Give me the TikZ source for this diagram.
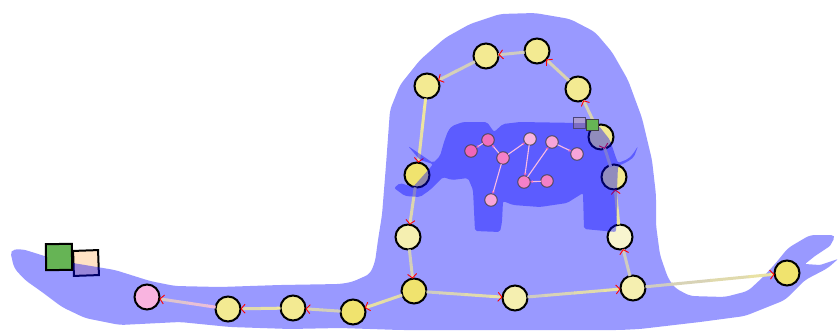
\documentclass[tikz,border=0pt]{standalone}
\usetikzlibrary{arrows.meta,calc}
\definecolor{yA}{HTML}{F0E36E}
\definecolor{yB}{HTML}{F3EA92}
\definecolor{yC}{HTML}{F5EFB0}
\definecolor{yD}{HTML}{F8F5CF}
\definecolor{edgeY}{HTML}{F2E99A}
\definecolor{edgeG}{HTML}{CFCCC0}
\definecolor{edgeT}{HTML}{DDD6AE}
\definecolor{edgeP}{HTML}{F2BCDD}
\definecolor{pinkA}{HTML}{F066B8}
\definecolor{pinkB}{HTML}{F480C8}
\definecolor{pinkC}{HTML}{F8A4DA}
\definecolor{pinkD}{HTML}{F9B4E0}
\definecolor{greenS}{HTML}{66B455}
\definecolor{peachS}{HTML}{FFE2C4}
\definecolor{lavA}{HTML}{AC9CD4}
\definecolor{lavB}{HTML}{7C6CC4}
\definecolor{lavE}{HTML}{4A4478}
\tikzset{
  x=1pt,y=-1pt,
  overlay blue/.style={fill=blue,fill opacity=0.4,draw=none},
  bignode/.style={circle,draw=black,line width=2pt,minimum size=25pt,inner sep=0pt,outer sep=0pt},
  smallnode/.style={circle,draw=black!75,draw opacity=.8,line width=1pt,minimum size=12.5pt,inner sep=0pt,outer sep=0pt},
  bigedge/.style={line width=3pt},
  redtip/.style={-{Straight Barb[color=red,length=4pt,width=9pt,line width=.9pt]}},
  smalledge/.style={line width=1.1pt,draw=pinkC!75!white},
  smalltip/.style={-{Stealth[color=pinkA,length=3pt,width=3pt]}},
}
\newcommand{\bigconn}[4]{%
  \foreach \i/\m in {0/0,1/25,2/50,3/75}{%
    \pgfmathsetmacro{\ta}{\i/4}\pgfmathsetmacro{\tb}{(\i+1)/4+.01}%
    \colorlet{segc}{#4!\m!#3}%
    \ifnum\i=0
      \draw[bigedge,draw=segc] (#1) -- ($(#1)!\tb!(#2)$);
    \else\ifnum\i=3
      \draw[bigedge,draw=segc,redtip] ($(#1)!\ta!(#2)$) -- (#2);
    \else
      \draw[bigedge,draw=segc] ($(#1)!\ta!(#2)$) -- ($(#1)!\tb!(#2)$);
    \fi\fi}}
\begin{document}
\begin{tikzpicture}
\useasboundingbox (0,0) rectangle (838,330);
\node[draw=black,line width=2pt,fill=peachS,minimum size=25pt,inner sep=0pt,rotate=2] (sqB) at (86,263) {};
\fill[overlay blue,rounded corners=5pt]
  (10,250) -- (22,249) -- (35,253) -- (60,261) -- (85,265) -- (115,270) -- (150,281) -- (175,286)
  -- (220,287) -- (280,285) -- (340,284) -- (352,282) -- (370,274) -- (375,262) -- (378,240)
  -- (382,215) -- (386,165) -- (390,110) -- (400,85) -- (420,60) -- (445,38) -- (470,24)
  -- (500,14) -- (535,13) -- (570,19) -- (595,32) -- (612,52) -- (628,80) -- (642,118)
  -- (652,160) -- (656,195) -- (656,225) -- (660,255) -- (668,278) -- (675,288) -- (690,296)
  -- (725,297) -- (748,291) -- (762,278) -- (775,264) -- (788,248) -- (810,235) -- (836,235)
  [rounded corners=1pt] -- (830,246) -- (815,256) -- (805,264) -- (820,265) -- (838,259) [rounded corners=5pt] -- (828,268) -- (805,280)
  -- (785,300) -- (745,316) -- (700,322) -- (640,329) -- (620,330) -- (450,330) -- (400,330)
  -- (340,328) -- (290,329) -- (230,327) -- (180,322) -- (120,325) -- (85,318) -- (62,307)
  -- (42,292) -- (25,280) -- (14,268) -- cycle;
\node[bignode,fill=pinkD] (n1) at (147,297) {};
\node[bignode,fill=yB] (n2) at (228,309) {};
\node[bignode,fill=yB] (n3) at (293,308) {};
\node[bignode,fill=yA] (n4) at (353,312) {};
\node[bignode,fill=yA] (n5) at (414,291) {};
\node[bignode,fill=yC] (n6) at (408,237) {};
\node[bignode,fill=yA] (n7) at (417,175) {};
\node[bignode,fill=yB] (n8) at (427,86) {};
\node[bignode,fill=yB] (n9) at (486,56) {};
\node[bignode,fill=yB] (n10) at (537,51) {};
\node[bignode,fill=yB] (n11) at (578,89) {};
\node[bignode,fill=yB] (n12) at (601,137) {};
\node[bignode,fill=yB] (n13) at (614,177) {};
\node[bignode,fill=yD] (n14) at (620,237) {};
\node[bignode,fill=yC] (n15) at (633,288) {};
\node[bignode,fill=yC] (n16) at (515,298) {};
\node[bignode,fill=yA] (n17) at (787,273) {};
\bigconn{n2}{n1}{edgeP}{edgeG}
\bigconn{n3}{n2}{edgeY}{edgeG}
\bigconn{n4}{n3}{edgeG}{edgeT}
\bigconn{n5}{n4}{edgeT}{edgeY}
\bigconn{n6}{n5}{edgeG}{edgeT}
\bigconn{n7}{n6}{edgeT}{edgeT}
\bigconn{n8}{n7}{edgeY}{edgeT}
\bigconn{n9}{n8}{edgeG}{edgeT}
\bigconn{n10}{n9}{edgeG}{edgeG}
\bigconn{n11}{n10}{edgeT}{edgeG}
\bigconn{n12}{n11}{edgeT}{edgeG}
\bigconn{n13}{n12}{edgeG}{edgeG}
\bigconn{n14}{n13}{edgeY}{edgeG}
\bigconn{n15}{n14}{edgeG}{edgeG}
\bigconn{n16}{n15}{edgeG}{edgeY}
\bigconn{n5}{n16}{edgeG}{edgeY}
\bigconn{n15}{n17}{edgeG}{edgeY}
\fill[overlay blue,rounded corners=2pt]
  (448,131) -- (452,126) -- (463,122) -- (487,122) -- (494,132) -- (503,124) -- (520,122)
  -- (580,123) -- (599,126) -- (610,140) -- (615,155) -- (618,163) -- (628,159) -- (633,154)
  -- (638,146) -- (634,157) -- (627,162) -- (618,166) -- (617,190) -- (617,210) -- (616,232)
  -- (584,229) -- (583,193) -- (567,203) -- (540,207) -- (513,205) -- (503,201) -- (502,222)
  -- (500,232) -- (475,231) -- (473,190) -- (468,178) -- (452,180) -- (443,177) -- (430,190)
  -- (420,197) -- (405,196) -- (394,188) -- (400,183) -- (413,187) -- (430,168) -- (433,164)
  -- (420,160) -- (408,146) -- (420,154) -- (433,163) -- (440,156) -- (444,142) -- cycle;
\node[smallnode,fill=pinkA] (p1) at (471,151) {};
\node[smallnode,fill=pinkA!85!pinkC] (p2) at (488,140) {};
\node[smallnode,fill=pinkB] (p3) at (503,158) {};
\node[smallnode,fill=pinkD] (p4) at (530,139) {};
\node[smallnode,fill=pinkC] (p5) at (552,142) {};
\node[smallnode,fill=pinkC] (p6) at (577,154) {};
\node[smallnode,fill=pinkB] (p7) at (524,182) {};
\node[smallnode,fill=pinkB] (p8) at (547,181) {};
\node[smallnode,fill=pinkC] (p9) at (491,200) {};
\draw[smalledge,smalltip] (p2) -- (p1);
\draw[smalledge,smalltip] (p3) -- (p2);
\draw[smalledge,smalltip] (p3) -- (p4);
\draw[smalledge,smalltip] (p3) -- (p9);
\draw[smalledge,smalltip] (p4) -- (p7);
\draw[smalledge,smalltip] (p7) -- (p5);
\draw[smalledge,smalltip] (p5) -- (p6);
\draw[smalledge,smalltip] (p8) -- (p7);
\node[fill=lavA,minimum size=11.5pt,inner sep=0pt,outer sep=0pt] (sqD) at (579.5,123) {};
\fill[lavB] (sqD.west) rectangle (sqD.south east);
\draw[lavE,line width=1pt] (sqD.south west) rectangle (sqD.north east);
\node[draw=black,line width=2pt,fill=greenS,minimum size=26pt,inner sep=0pt,rotate=1] (sqA) at (59,257) {};
\node[draw=black!75,line width=1pt,fill=greenS,minimum size=11.5pt,inner sep=0pt] (sqC) at (592.5,125) {};
\end{tikzpicture}
\end{document}
